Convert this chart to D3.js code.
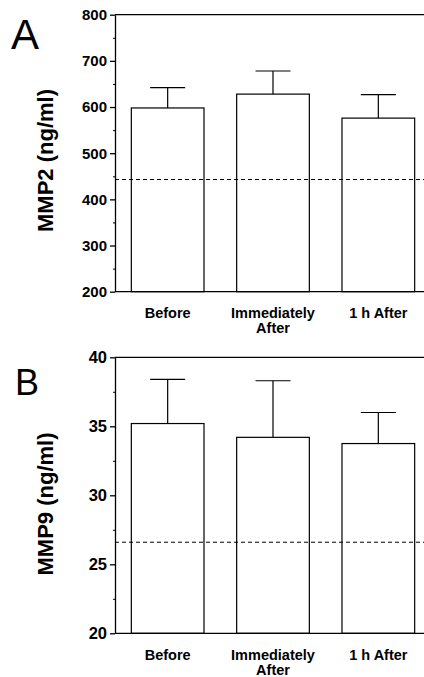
<!DOCTYPE html>
<html>
<head>
<meta charset="utf-8">
<script src="https://cdn.jsdelivr.net/npm/d3@7"></script>
<style>
  html, body { margin: 0; padding: 0; background: #fff; }
  svg { display: block; font-family: "Liberation Sans", Arial, Helvetica, sans-serif; }
</style>
</head>
<body>
<svg id="chart" width="424" height="677"></svg>
<script>
// ---- data ----
const categories = ["Before", "Immediately After", "1 h After"];
const categoryLines = [["Before"], ["Immediately", "After"], ["1 h After"]];

const mmp2Means = [598, 628, 576];
const mmp2SD = [44, 50, 51];
const mmp2Reference = 443;
const mmp2Ticks = [200, 300, 400, 500, 600, 700, 800];
const mmp2MinorTicks = [250, 350, 450, 550, 650, 750];

const mmp9Means = [35.2, 34.2, 33.75];
const mmp9SD = [3.2, 4.1, 2.25];
const mmp9Reference = 26.6;
const mmp9Ticks = [20, 25, 30, 35, 40];
const mmp9MinorTicks = [22.5, 27.5, 32.5, 37.5];

// ---- drawing ----
const svg = d3.select("#chart");

function drawPanel(opts) {
  const g = svg.append("g");
  const y = d3.scaleLinear().domain(opts.domain).range([opts.bottom, opts.top]);
  const x = d3.scaleBand().domain(categories).range([115, 431])
    .paddingInner(0.31).paddingOuter(0.155);
  const lw = 1.3;

  // bars
  g.selectAll("rect.bar").data(categories).join("rect")
    .attr("x", d => x(d))
    .attr("y", (d, i) => y(opts.means[i]))
    .attr("width", x.bandwidth())
    .attr("height", (d, i) => y(opts.domain[0]) - y(opts.means[i]))
    .attr("fill", "#fff").attr("stroke", "#000").attr("stroke-width", 1.2);

  // error bars
  const cx = d => x(d) + x.bandwidth() / 2;
  g.selectAll("line.err").data(categories).join("line")
    .attr("x1", cx).attr("x2", cx)
    .attr("y1", (d, i) => y(opts.means[i]))
    .attr("y2", (d, i) => y(opts.means[i] + opts.sd[i]))
    .attr("stroke", "#000").attr("stroke-width", 1.2);
  g.selectAll("line.cap").data(categories).join("line")
    .attr("x1", d => cx(d) - 17.5).attr("x2", d => cx(d) + 17.5)
    .attr("y1", (d, i) => y(opts.means[i] + opts.sd[i]))
    .attr("y2", (d, i) => y(opts.means[i] + opts.sd[i]))
    .attr("stroke", "#000").attr("stroke-width", 1.2);

  // reference dashed line
  g.append("line")
    .attr("x1", 115).attr("x2", 431)
    .attr("y1", y(opts.reference)).attr("y2", y(opts.reference))
    .attr("stroke", "#000").attr("stroke-width", 1).attr("stroke-dasharray", "4,3");

  // frame top and bottom
  g.append("line").attr("x1", 115).attr("x2", 431)
    .attr("y1", y(opts.domain[1])).attr("y2", y(opts.domain[1]))
    .attr("stroke", "#000").attr("stroke-width", lw);
  g.append("line").attr("x1", 115).attr("x2", 431)
    .attr("y1", y(opts.domain[0])).attr("y2", y(opts.domain[0]))
    .attr("stroke", "#000").attr("stroke-width", lw);

  // minor ticks
  const minor = g.append("g").attr("transform", "translate(115,0)")
    .call(d3.axisLeft(y).tickValues(opts.minorTicks).tickSize(2).tickSizeOuter(0).tickFormat(""));
  minor.select(".domain").remove();
  minor.selectAll("line").attr("stroke-width", 1);

  // major axis
  const ax = g.append("g").attr("transform", "translate(115,0)")
    .call(d3.axisLeft(y).tickValues(opts.ticks).tickSize(5).tickSizeOuter(0).tickPadding(3));
  ax.select(".domain").attr("stroke-width", lw);
  ax.selectAll(".tick line").attr("stroke-width", lw);
  ax.selectAll(".tick text")
    .attr("font-family", "'Liberation Sans', Arial, sans-serif")
    .attr("font-weight", "bold")
    .attr("font-size", opts.tickFont)
    .attr("fill", "#000");

  // category labels (one text per line)
  const lines = [];
  categories.forEach((c, i) => categoryLines[i].forEach((t, j) => lines.push({t, c: cx(c), j})));
  g.selectAll("text.cat").data(lines).join("text")
    .attr("class", "cat")
    .attr("x", d => d.c)
    .attr("y", d => opts.labelBaseline + d.j * 15)
    .attr("text-anchor", "middle")
    .attr("font-weight", "bold")
    .attr("font-size", 14.5)
    .text(d => d.t);

  // y title
  g.append("text")
    .attr("transform", `translate(52.5,${opts.titleY}) rotate(-90)`)
    .attr("text-anchor", "middle")
    .attr("font-weight", "bold")
    .attr("font-size", 22)
    .text(opts.title);

  // panel letter
  g.append("text")
    .attr("x", opts.letterX).attr("y", opts.letterY)
    .attr("font-size", opts.letterSize)
    .text(opts.letter);
}

drawPanel({
  domain: [200, 800], top: 14.7, bottom: 291.7,
  means: mmp2Means, sd: mmp2SD, reference: mmp2Reference,
  ticks: mmp2Ticks, minorTicks: mmp2MinorTicks, tickFont: 15,
  labelBaseline: 317.5, title: "MMP2 (ng/ml)", titleY: 160.5,
  letter: "A", letterX: 11, letterY: 48.5, letterSize: 42
});

drawPanel({
  domain: [20, 40], top: 357.3, bottom: 633.3,
  means: mmp9Means, sd: mmp9SD, reference: mmp9Reference,
  ticks: mmp9Ticks, minorTicks: mmp9MinorTicks, tickFont: 16.5,
  labelBaseline: 660, title: "MMP9 (ng/ml)", titleY: 504,
  letter: "B", letterX: 15, letterY: 395, letterSize: 36
});
</script>
</body>
</html>
